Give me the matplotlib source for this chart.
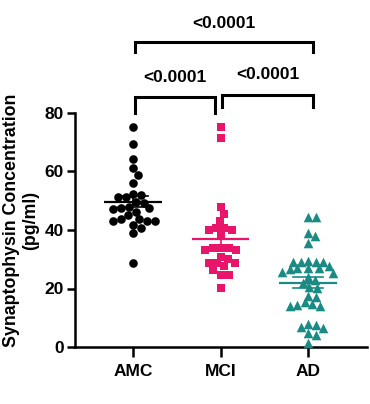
import numpy as np
import matplotlib
matplotlib.use("Agg")
import matplotlib.pyplot as plt

categories = ["AMC", "MCI", "AD"]
amc = [75.3, 69.3, 64.2, 61.1, 58.8, 56.2, 52.3, 52.0, 51.4, 51.4, 49.7, 49.4, 47.4,
       47.6, 47.2, 48.0, 46.3, 45.1, 43.1, 43.0, 43.8, 43.1, 43.8, 41.7, 38.9, 40.6, 28.6]
mci = [75.3, 71.6, 48.0, 45.5, 40.8, 40.0, 40.0, 40.8, 43.1, 38.3, 34.0, 33.2, 34.0,
       34.0, 33.2, 30.9, 30.1, 28.6, 28.6, 27.8, 28.6, 24.6, 24.6, 26.3, 20.3]
ad = [44.5, 44.5, 38.9, 37.9, 35.4, 29.2, 29.2, 29.2, 29.5, 29.2, 26.9, 26.9, 26.9,
      27.6, 25.4, 26.5, 25.8, 24.0, 22.9, 22.0, 20.1, 20.4, 17.0, 17.6, 14.1, 14.6,
      15.3, 14.1, 14.4, 6.4, 6.8, 8.0, 7.4, 4.1, 4.7, 1.3]
groups = [amc, mci, ad]
colors = ["#000000", "#E8156B", "#1A8A84"]
markers = ["o", "s", "^"]
yticks = [0, 20, 40, 60, 80]
comparisons = [(0, 1, "<0.0001"), (1, 2, "<0.0001"), (0, 2, "<0.0001")]

plt.rcParams['font.family'] = ['Liberation Sans', 'DejaVu Sans']
plt.rcParams['font.weight'] = 'bold'

W, H = 370, 404
fig = plt.figure(figsize=(W / 100, H / 100), dpi=100)
ax = fig.add_axes([75 / W, 57 / H, 292 / W, 234 / H])
ax.set_xlim(-0.663, 2.674)
ax.set_ylim(0, 80)

px_per_x = 292 / (2.674 + 0.663)
px_per_y = 234 / 80.0


def swarm(vals, d):
    ys = np.array(vals) * px_per_y
    order = np.argsort(-ys)
    placed = []
    xs = np.zeros(len(vals))
    steps = np.arange(0.5, 80, 0.5)
    cands = np.concatenate([[0], np.ravel(np.column_stack([steps, -steps]))])
    for i in order:
        for c in cands:
            ok = True
            for (px, py) in placed:
                if (px - c) ** 2 + (py - ys[i]) ** 2 < d * d:
                    ok = False
                    break
            if ok:
                xs[i] = c
                placed.append((c, ys[i]))
                break
    return xs / px_per_x


sizes = [8.6, 8.2, 9.6]
spacing = [0.92, 0.95, 0.78]
for gi, (vals, col, mk, sz, spc) in enumerate(zip(groups, colors, markers, sizes, spacing)):
    offs = swarm(vals, sz * spc)
    ax.scatter(gi + offs, vals, s=(sz * 0.72) ** 2, marker=mk, color=col,
               linewidths=0, zorder=3, clip_on=False)
    m = np.mean(vals)
    sem = np.std(vals, ddof=1) / np.sqrt(len(vals))
    ax.plot([gi - 0.33, gi + 0.33], [m, m], color=col, lw=1.6, zorder=4, solid_capstyle='butt')
    ax.plot([gi, gi], [m - sem, m + sem], color=col, lw=1.2, zorder=4)
    for yy in (m - sem, m + sem):
        ax.plot([gi - 0.17, gi + 0.17], [yy, yy], color=col, lw=1.2, zorder=4)

for sp in ["top", "right"]:
    ax.spines[sp].set_visible(False)
for sp in ["left", "bottom"]:
    ax.spines[sp].set_linewidth(1.8)
ax.set_yticks(yticks)
ax.set_xticks(range(len(categories)))
ax.set_xticklabels(categories, fontsize=12.5, fontweight='bold')
ax.tick_params(axis='y', length=6, width=1.8, labelsize=12.5, pad=2)
ax.tick_params(axis='x', length=7, width=1.8, labelsize=12.5, pad=5)
for lab in ax.get_yticklabels():
    lab.set_fontweight('bold')

bk = {(0, 1): (85.5, 80.0, 92.2), (1, 2): (86.2, 82.0, 93.0), (0, 2): (104.3, 100.9, 110.6)}
xadj = {(0, 1): (0.02, 0.94), (1, 2): (1.02, 2.06), (0, 2): (0.02, 2.06)}
for a, b, txt in comparisons:
    ytop, ybot, ytxt = bk[(a, b)]
    x0, x1 = xadj[(a, b)]
    ax.plot([x0, x0, x1, x1], [ybot, ytop, ytop, ybot], color='black', lw=2.2,
            clip_on=False, solid_joinstyle='miter')
    ax.text((x0 + x1) / 2, ytxt, txt, ha='center', va='center', fontsize=12.5,
            fontweight='bold', clip_on=False)

fig.text(21 / W, 1 - 220 / H, "Synaptophysin Concentration\n(pg/ml)", rotation=90,
         ha='center', va='center', multialignment='center', fontsize=12.8,
         fontweight='bold', linespacing=1.2)

fig.savefig("out.png", dpi=100)
